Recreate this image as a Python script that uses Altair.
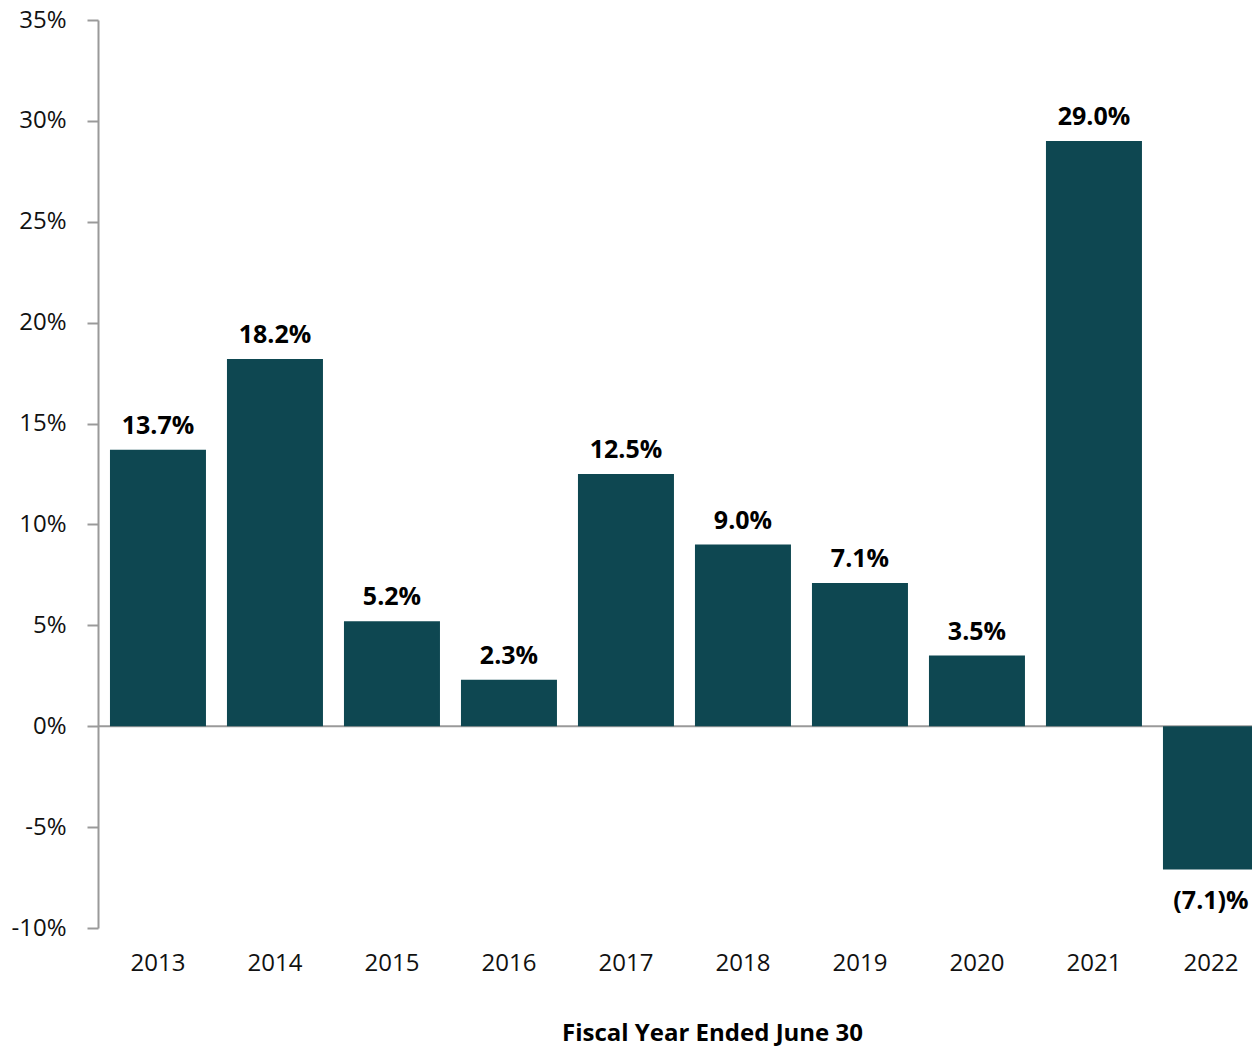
import altair as alt
import pandas as pd

years = ["2013", "2014", "2015", "2016", "2017", "2018", "2019", "2020", "2021", "2022"]
returns = [13.7, 18.2, 5.2, 2.3, 12.5, 9.0, 7.1, 3.5, 29.0, -7.1]
y_ticks = [-10, -5, 0, 5, 10, 15, 20, 25, 30, 35]

df = pd.DataFrame({"year": years, "value": returns})
df["label"] = [
    f"({abs(v):.1f})%" if v < 0 else f"{v:.1f}%" for v in returns
]

FONT = "Open Sans"
BAR = "#0e4751"
GRAY = "#9a9a9a"

x_enc = alt.X(
    "year:N",
    sort=years,
    scale=alt.Scale(paddingInner=0.1795, paddingOuter=0.0556, align=0.92),
    axis=alt.Axis(
        title="Fiscal Year Ended June 30",
        titleFont=FONT,
        titleFontSize=24,
        titleFontWeight="bold",
        titleColor="#000000",
        titleBaseline="alphabetic",
        titleAlign="center",
        titleX=614,
        titleY=112,
        labelFont=FONT,
        labelFontSize=24,
        labelColor="#111111",
        labelAngle=0,
        labelBaseline="alphabetic",
        labelPadding=42,
        ticks=False,
        tickSize=0,
        domain=False,
    ),
)

y_scale = alt.Scale(domain=[-10, 35], nice=False, zero=False)

bars = alt.Chart(df).mark_bar(color=BAR).encode(
    x=x_enc,
    y=alt.Y(
        "value:Q",
        scale=y_scale,
        axis=alt.Axis(
            title=None,
            values=y_ticks,
            labelExpr="datum.value + '%'",
            labelFont=FONT,
            labelFontSize=24,
            labelColor="#111111",
            labelPadding=21,
            tickSize=11,
            tickColor=GRAY,
            tickWidth=2,
            domainColor=GRAY,
            domainWidth=2,
            grid=False,
        ),
    ),
    y2=alt.datum(0),
)

zero_line = alt.Chart(pd.DataFrame({"z": [0]})).mark_rule(
    color=GRAY, strokeWidth=2
).encode(y=alt.Y("z:Q", scale=y_scale))

pos_labels = alt.Chart(df).transform_filter("datum.value >= 0").mark_text(
    font=FONT, fontSize=25, fontWeight="bold", color="#000000",
    baseline="alphabetic", dy=-16
).encode(x=alt.X("year:N", sort=years), y=alt.Y("value:Q", scale=y_scale), text="label:N")

neg_labels = alt.Chart(df).transform_filter("datum.value < 0").mark_text(
    font=FONT, fontSize=25, fontWeight="bold", color="#000000",
    baseline="alphabetic", dy=40
).encode(x=alt.X("year:N", sort=years), y=alt.Y("value:Q", scale=y_scale), text="label:N")

chart = alt.layer(zero_line, bars, pos_labels, neg_labels).properties(
    width=1162,
    height=908,
    autosize=alt.AutoSizeParams(type="none"),
    padding={"left": 90, "top": 12, "right": -8, "bottom": 120},
).configure_view(stroke=None)

chart.save("out.html", embed_options={"renderer": "svg", "actions": False})
